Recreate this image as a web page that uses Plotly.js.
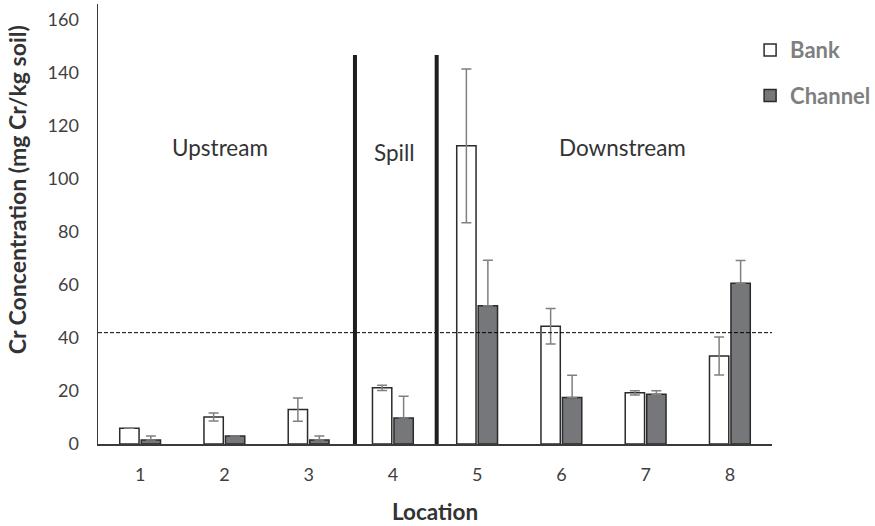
<!DOCTYPE html>
<html><head><meta charset="utf-8">
<script src="https://cdn.plot.ly/plotly-3.0.1.min.js"></script>
<style>html,body{margin:0;padding:0;background:#fff}</style>
</head><body>
<div id="chart" style="width:875px;height:526px"></div>
<script>
const locations = [1, 2, 3, 4, 5, 6, 7, 8];
const bankValues = [5.9, 10.2, 13.0, 21.2, 112.5, 44.4, 19.3, 33.2];
const bankErrors = [0, 1.5, 4.4, 1.0, 29.0, 6.7, 0.8, 7.2];
const channelValues = [1.5, 3.0, 1.5, 9.8, 52.2, 17.5, 18.8, 60.6];
const channelErrors = [1.5, 0, 1.5, 8.2, 17.1, 8.4, 1.3, 8.6];
const thresholdValue = 42;
const dividerPositions = [3.55, 4.52];
const regionLabels = ['Upstream', 'Spill', 'Downstream'];
const regionX = [1.95, 4.02, 6.72];
const regionY = [112, 110, 112];
const yTitleText = 'Cr Concentration (mg Cr/kg soil)';

const FONT = 'Lato, "Open Sans", "Liberation Sans", sans-serif';

const traces = [
  {
    type: 'bar', name: '<b>Bank</b>', x: locations, y: bankValues,
    marker: {color: '#ffffff', line: {color: '#2b2b2b', width: 1.5}},
    error_y: {type: 'data', array: bankErrors, visible: true, color: '#808080', thickness: 1.5, width: 5},
    legendgroup: 'a'
  },
  {
    type: 'bar', name: '<b>Channel</b>', x: locations, y: channelValues,
    marker: {color: '#76777a', line: {color: '#2b2b2b', width: 1.5}},
    error_y: {type: 'data', array: channelErrors, arrayminus: channelErrors.map(() => 0), symmetric: false, visible: true, color: '#808080', thickness: 1.5, width: 5},
    legendgroup: 'b'
  }
];

const shapes = [
  {type: 'line', xref: 'paper', x0: 0, x1: 1, yref: 'y', y0: thresholdValue, y1: thresholdValue,
   line: {color: '#000', width: 1, dash: '4px,2px'}}
];
dividerPositions.forEach(p => shapes.push({
  type: 'line', xref: 'x', x0: p, x1: p, yref: 'y', y0: -3, y1: 146.8,
  line: {color: '#1e1e1e', width: 4}
}));

const annotations = regionLabels.map((t, i) => ({
  text: t, x: regionX[i], y: regionY[i], xref: 'x', yref: 'y', showarrow: false,
  font: {family: FONT, size: 22.5, color: '#333'}
}));
annotations.push({
  text: '<b>' + yTitleText + '</b>', textangle: -90, xref: 'paper', yref: 'paper',
  x: -0.12, xanchor: 'center', y: 0.577, yanchor: 'middle', showarrow: false,
  font: {family: FONT, size: 23, color: '#333'}
});

const layout = {
  width: 875, height: 526,
  margin: {l: 98, r: 103, t: 4, b: 82, autoexpand: false},
  paper_bgcolor: '#fff', plot_bgcolor: '#fff',
  barmode: 'group', bargap: 0.49, bargroupgap: 0.1,
  showlegend: true,
  legend: {x: 0.9675, xanchor: 'left', y: 0.943, yanchor: 'top', xref: 'paper',
           font: {family: FONT, size: 22, color: '#7f7f7f'},
           tracegroupgap: 14, traceorder: 'grouped', itemwidth: 30},
  xaxis: {
    range: [0.5, 8.5], tickmode: 'array', tickvals: locations, ticktext: locations.map(String),
    showline: true, linecolor: '#3a3a3a', linewidth: 1.5, showgrid: false, zeroline: false,
    ticks: '', ticklabelstandoff: 14, tickfont: {family: FONT, size: 18, color: '#404040'},
    title: {text: 'Location', font: {family: FONT, size: 22.5, color: '#333', weight: 'bold'}, standoff: 20}
  },
  yaxis: {
    range: [0, 166], tickmode: 'array', tickvals: [0, 20, 40, 60, 80, 100, 120, 140, 160],
    showline: true, linecolor: '#3a3a3a', linewidth: 1.5, showgrid: false, zeroline: false,
    ticks: '', ticklabelstandoff: 14, tickfont: {family: FONT, size: 18, color: '#404040'}
  },
  shapes: shapes,
  annotations: annotations
};

Plotly.newPlot('chart', traces, layout, {displayModeBar: false, staticPlot: true});
</script>
</body></html>
